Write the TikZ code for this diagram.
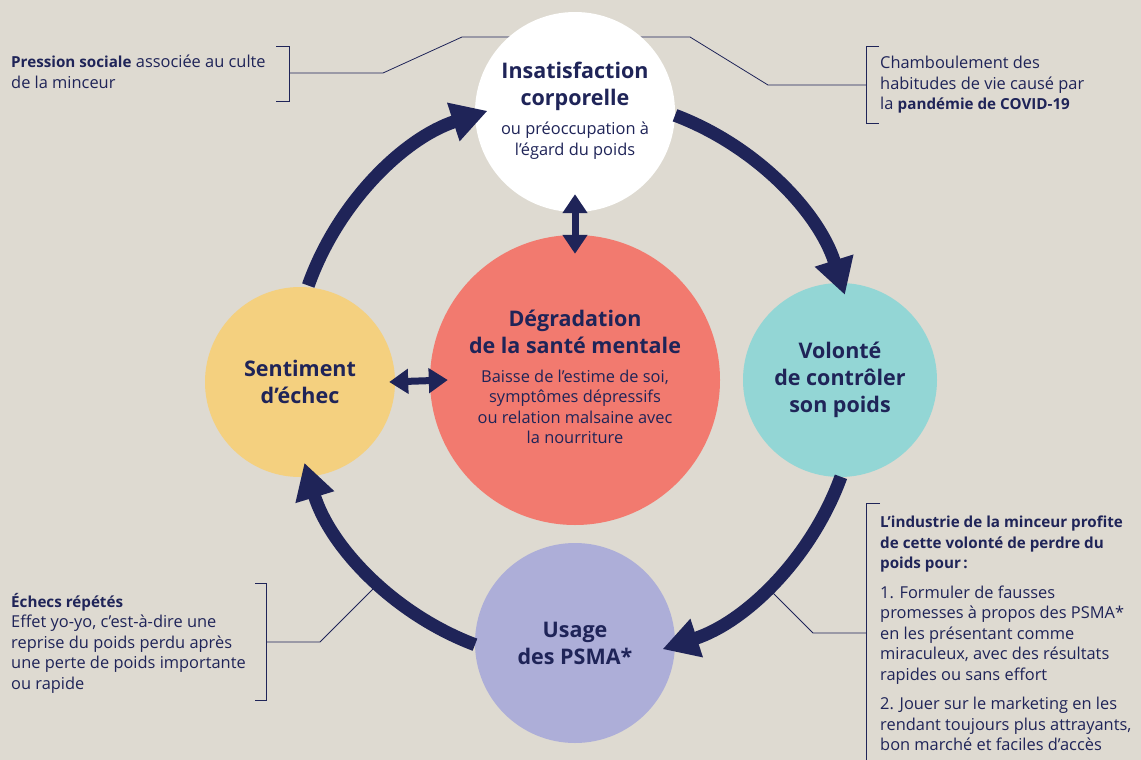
\documentclass[tikz,border=0pt]{standalone}
\usepackage{fontspec}
\setmainfont{Open Sans}
\usetikzlibrary{arrows.meta}

\newcommand{\titlesize}{\fontsize{21.5}{27}\selectfont\bfseries}
\newcommand{\bodysize}{\fontsize{16.4}{20.5}\selectfont}
\newcommand{\subtext}[1]{\bodysize\mdseries\begin{tabular}[t]{@{}c@{}}#1\end{tabular}}
\newcommand{\notebf}[1]{{\fontsize{15.2}{20.5}\selectfont\bfseries #1}}

\tikzset{
  bubble/.style={circle,draw=none,inner sep=0pt,align=center,text=navy,font=\titlesize},
  cycle arrow/.style={navy,line width=13pt,-{Triangle[width=38pt,length=36pt]}},
  twoway/.style={navy,line width=7pt,{Triangle[width=24pt,length=19pt]}-{Triangle[width=24pt,length=19pt]}},
  callout/.style={navy,line width=0.8pt},
  note/.style={inner sep=0pt,align=left,text=navy,font=\bodysize,anchor=north west}
}

\begin{document}
\begin{tikzpicture}[x=1pt,y=-1pt]

  \definecolor{navy}{RGB}{31,36,88}
  \definecolor{paper}{RGB}{222,218,209}
  \definecolor{salmon}{RGB}{242,122,111}
  \definecolor{sand}{RGB}{244,208,127}
  \definecolor{aqua}{RGB}{147,214,213}
  \definecolor{lilac}{RGB}{173,174,216}

  % Background
  \fill[paper] (0,0) rectangle (1141,760);
  \useasboundingbox (0,0) rectangle (1141,760);

  % Centre of the cycle
  \coordinate (c) at (575,380);

  % Callout lines (behind the circles)
  \draw[callout] (276,46) -- (289,46) -- (289,101) -- (276,101);
  \draw[callout] (289,73) -- (383,73) -- (462,37) -- (540,37);
  \draw[callout] (879,46) -- (866,46) -- (866,123) -- (879,123);
  \draw[callout] (866,85) -- (768,85) -- (690,37) -- (610,37);
  \draw[callout] (255,583) -- (266,583) -- (266,700) -- (255,700);
  \draw[callout] (266,642) -- (320,642) -- (382,580);
  \draw[callout] (880,503) -- (866,503) -- (866,760);
  \draw[callout] (866,633) -- (813,633) -- (765,585);

  % Draw circles
  \node[bubble,fill=white,minimum size=200pt] (insat) at (575,112)
    {Insatisfaction\\corporelle\\[2pt]\subtext{ou préoccupation à\\l’égard du poids}};
  \node[bubble,fill=salmon,minimum size=290pt] (degr) at (575,380)
    {Dégradation\\de la santé mentale\\[2pt]\subtext{Baisse de l’estime de soi,\\symptômes dépressifs\\ou relation malsaine avec\\la nourriture}};
  \node[bubble,fill=sand,minimum size=190pt] (echec) at (300,382) {Sentiment\\d’échec};
  \node[bubble,fill=aqua,minimum size=194pt] (volonte) at (840,380) {Volonté\\de contrôler\\son poids};
  \node[bubble,fill=lilac,minimum size=200pt] (usage) at (575,643) {Usage\\des PSMA*};

  % Draw cycle arrows
  \draw[cycle arrow] (c) ++(-160.5:283) arc (-160.5:-108:283);
  \draw[cycle arrow] (c) ++(-69.3:283) arc (-69.3:-17.5:283);
  \draw[cycle arrow] (c) ++(20:283) arc (20:72:283);
  \draw[cycle arrow] (c) ++(110.7:283) arc (110.7:163:283);

  % Draw two-way arrows
  \draw[twoway] ([yshift=18pt]insat.south) -- ([yshift=-19pt]degr.north);
  \draw[twoway] ([xshift=-6pt]echec.east) -- ([xshift=18pt]degr.west);

  % Side notes
  \node[note] (pression) at (11,55)
    {\notebf{Pression sociale} associée au culte\\de la minceur};
  \node[note] (covid) at (880,56)
    {Chamboulement des\\habitudes de vie causé par\\la \notebf{pandémie de COVID-19}};
  \node[note] (yoyo) at (11,593)
    {\notebf{Échecs répétés}\\Effet yo-yo, c’est-à-dire une\\reprise du poids perdu après\\une perte de poids importante\\ou rapide};
  \node[note] (industrie) at (880,516)
    {\notebf{L’industrie de la minceur profite}\\\notebf{de cette volonté de perdre du}\\\notebf{poids pour\,:}\\[9pt]
     1. Formuler de fausses\\promesses à propos des PSMA*\\en les présentant comme\\miraculeux, avec des résultats\\rapides ou sans effort\\[9pt]
     2. Jouer sur le marketing en les\\rendant toujours plus attrayants,\\bon marché et faciles d’accès};

\end{tikzpicture}
\end{document}
